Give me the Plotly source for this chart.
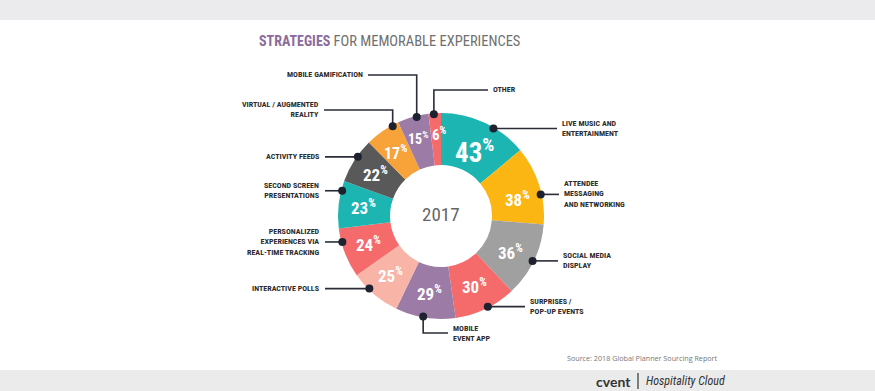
import math
import plotly.graph_objects as go

# ---------------- data ----------------
categories = [
    "Live Music and Entertainment", "Attendee Messaging and Networking",
    "Social Media Display", "Surprises / Pop-up Events", "Mobile Event App",
    "Interactive Polls", "Personalized Experiences via Real-time Tracking",
    "Second Screen Presentations", "Activity Feeds", "Virtual / Augmented Reality",
    "Mobile Gamification", "Other",
]
values = [43, 38, 36, 30, 29, 25, 24, 23, 22, 17, 15, 6]
label_texts = [
    "LIVE MUSIC AND<br>ENTERTAINMENT",
    "ATTENDEE<br>MESSAGING<br>AND NETWORKING",
    "SOCIAL MEDIA<br>DISPLAY",
    "SURPRISES /<br>POP-UP EVENTS",
    "MOBILE<br>EVENT APP",
    "INTERACTIVE POLLS",
    "PERSONALIZED<br>EXPERIENCES VIA<br>REAL-TIME TRACKING",
    "SECOND SCREEN<br>PRESENTATIONS",
    "ACTIVITY FEEDS",
    "VIRTUAL / AUGMENTED<br>REALITY",
    "MOBILE GAMIFICATION",
    "OTHER",
]
year_label = "2017"
title_bold = "STRATEGIES"
title_rest = "FOR MEMORABLE EXPERIENCES"
source_text = "Source: 2018 Global Planner Sourcing Report"

# ---------------- style ----------------
W, H = 875, 391
CX, CY, R_OUT, R_IN = 441, 216, 103, 51
slice_colors = ["#1cb5b2", "#fbb614", "#a0a0a0", "#f56b6b", "#9c7ca6", "#f7b4a7",
                "#f56b6b", "#1cb5b2", "#595959", "#f8a23a", "#9c7ca6", "#f56b6b"]
pct_sizes = [27, 17, 17, 17, 17, 17, 17, 17, 17, 16, 14, 15]
pct_radius = [73, 78, 78, 78, 78, 78, 78, 78, 78, 78, 81, 82]
pct_nudge = [2, 5, 2, 0, 0, 0, 0, 0, 0, -1.5, -0.5, 2.5]
# leader style: angle nudge from slice middle, optional elbow y, end x, label side
leaders = [
    dict(nudge=5.8, elbow=None, x_end=557, side="r"),
    dict(nudge=5.3, elbow=None, x_end=559, side="r"),
    dict(nudge=0.4, elbow=None, x_end=558, side="r"),
    dict(nudge=-1.6, elbow=None, x_end=525, side="r"),
    dict(nudge=1.3, elbow=333, x_end=448, side="r"),
    dict(nudge=4.3, elbow=None, x_end=325, side="l"),
    dict(nudge=6.3, elbow=None, x_end=325, side="l"),
    dict(nudge=7.9, elbow=None, x_end=325, side="l"),
    dict(nudge=2.7, elbow=None, x_end=325, side="l"),
    dict(nudge=6.2, elbow=110, x_end=324, side="l"),
    dict(nudge=2.0, elbow=75, x_end=368, side="l"),
    dict(nudge=-0.5, elbow=90, x_end=488, side="r"),
]
LINE_COLOR = "#2a2c38"
LABEL_FONT = "Roboto Condensed, Liberation Sans Narrow, Roboto, sans-serif"
LABEL_SIZE = 8


def px(x):
    return x / W


def py(y):
    return 1 - y / H


fig = go.Figure()
fig.add_trace(go.Pie(
    labels=categories, values=values, sort=False, direction="clockwise", rotation=0,
    hole=R_IN / R_OUT, marker=dict(colors=slice_colors, line=dict(width=0)),
    textinfo="none", hoverinfo="label+value", showlegend=False,
    domain=dict(x=[px(CX - R_OUT), px(CX + R_OUT)], y=[py(CY + R_OUT), py(CY - R_OUT)]),
))

shapes = [
    dict(type="rect", xref="paper", yref="paper", x0=0, x1=1, y0=py(20), y1=1,
         fillcolor="#ebebed", line=dict(width=0), layer="below"),
    dict(type="rect", xref="paper", yref="paper", x0=0, x1=1, y0=0, y1=py(370),
         fillcolor="#ebebeb", line=dict(width=0), layer="below"),
    dict(type="line", xref="paper", yref="paper", x0=px(638), x1=px(638), y0=py(373), y1=py(389),
         line=dict(color="#333333", width=1.2)),
]
annotations = []

total = sum(values)
cum = 0
for i, v in enumerate(values):
    mid = (cum + v / 2) / total * 360
    cum += v
    # percentage text
    a = math.radians(mid + pct_nudge[i])
    tx = CX + pct_radius[i] * math.sin(a)
    ty = CY - pct_radius[i] * math.cos(a)
    annotations.append(dict(
        x=px(tx), y=py(ty), xref="paper", yref="paper", showarrow=False,
        xanchor="center", yanchor="middle",
        text=f"{v}<sup>%</sup>",
        font=dict(family=LABEL_FONT, size=pct_sizes[i], color="white", weight="bold"),
    ))
    # leader
    L = leaders[i]
    b = math.radians(mid + L["nudge"])
    dx = CX + 102 * math.sin(b)
    dy = CY - 102 * math.cos(b)
    if L["elbow"] is None:
        pts = [(dx, dy), (L["x_end"], dy)]
        ly = dy
    else:
        pts = [(dx, dy), (dx, L["elbow"]), (L["x_end"], L["elbow"])]
        ly = L["elbow"]
    path = "M " + " L ".join(f"{px(x):.5f},{py(y):.5f}" for x, y in pts)
    shapes.append(dict(type="path", xref="paper", yref="paper", path=path,
                       line=dict(color=LINE_COLOR, width=1.6), layer="above"))
    shapes.append(dict(type="circle", xref="paper", yref="paper",
                       x0=px(dx - 4), x1=px(dx + 4), y0=py(dy + 4), y1=py(dy - 4),
                       fillcolor="#1e2130", line=dict(width=0), layer="above"))
    right = L["side"] == "r"
    annotations.append(dict(
        x=px(L["x_end"] + 3 if right else L["x_end"] - 3), y=py(ly),
        xref="paper", yref="paper", showarrow=False,
        xanchor="left" if right else "right", yanchor="middle",
        align="left" if right else "right", text=label_texts[i],
        font=dict(family=LABEL_FONT, size=LABEL_SIZE, color="#2b2b2b", weight="bold"),
    ))

# center label
annotations.append(dict(
    x=px(CX), y=py(CY - 2), xref="paper", yref="paper", showarrow=False,
    xanchor="center", yanchor="middle", text=year_label,
    font=dict(family=LABEL_FONT, size=19, color="#666666"),
))
# title
annotations.append(dict(
    x=px(257), y=py(42), xref="paper", yref="paper", showarrow=False,
    xanchor="left", yanchor="middle",
    text=f"<b><span style='color:#8b6b9c'>{title_bold}</span></b> "
         f"<span style='color:#707070;font-size:14.5px'>{title_rest}</span>",
    font=dict(family=LABEL_FONT, size=14, color="#707070"),
))
# source
annotations.append(dict(
    x=px(720), y=py(358), xref="paper", yref="paper", showarrow=False,
    xanchor="right", yanchor="middle", text=source_text,
    font=dict(family="Open Sans, sans-serif", size=7.2, color="#777777"),
))
# footer brand
annotations.append(dict(
    x=px(633), y=py(381), xref="paper", yref="paper", showarrow=False,
    xanchor="right", yanchor="middle", text="<b>cvent</b>",
    font=dict(family="Lato, sans-serif", size=14, color="#333333"),
))
annotations.append(dict(
    x=px(644), y=py(381), xref="paper", yref="paper", showarrow=False,
    xanchor="left", yanchor="middle", text="<i>Hospitality Cloud</i>",
    font=dict(family=LABEL_FONT, size=12, color="#333333"),
))

fig.update_layout(
    width=W, height=H, margin=dict(l=0, r=0, t=0, b=0),
    paper_bgcolor="white", plot_bgcolor="white",
    shapes=shapes, annotations=annotations,
)
fig.write_html(
    "out.html",
    config={"displayModeBar": False},
    post_script="document.body.style.margin='0';document.body.style.overflow='hidden';",
)
